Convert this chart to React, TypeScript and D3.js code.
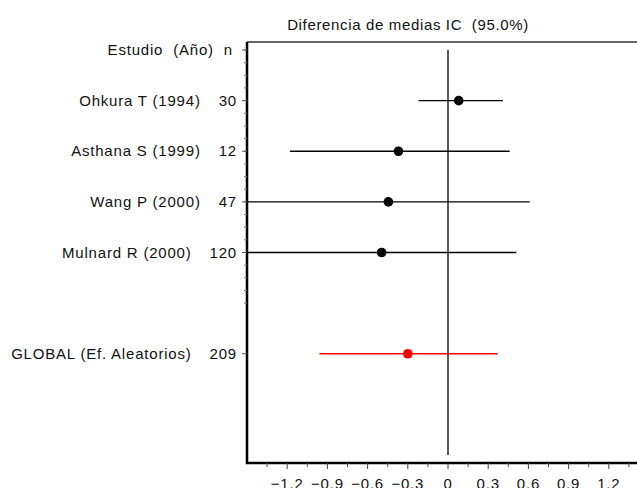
import React from 'react'
import * as d3 from 'd3'

// forest plot data
const studies = ['Ohkura T (1994)', 'Asthana S (1999)', 'Wang P (2000)', 'Mulnard R (2000)']
const sizes = [30, 12, 47, 120]
const means = [0.08, -0.37, -0.445, -0.495]
const lowers = [-0.22, -1.18, -1.5, -1.5]
const uppers = [0.41, 0.46, 0.61, 0.51]

const pooledLabel = 'GLOBAL (Ef. Aleatorios)'
const pooledN = 209
const pooledMean = -0.3
const pooledLower = -0.96
const pooledUpper = 0.37

const xTicks = [-1.2, -0.9, -0.6, -0.3, 0, 0.3, 0.6, 0.9, 1.2]

const font = '"Liberation Sans", Arial, sans-serif'

const App = () => {
  const left = 247
  const top = 42
  const bottom = 463

  const x = d3.scaleLinear().domain([-1.5, 1.5]).range([left, 649])
  const y = d3.scaleLinear().domain([0, 8]).range([50, 455])

  const rows = studies.map((s, i) => ({
    label: s, n: sizes[i], mean: means[i], lo: lowers[i], hi: uppers[i], row: i + 1, color: '#000'
  }))
  rows.push({ label: pooledLabel, n: pooledN, mean: pooledMean, lo: pooledLower, hi: pooledUpper, row: 6, color: '#ff0000' })

  const minorY = d3.range(0, 5.01, 0.25)
  const minorX = d3.range(-1.35, 1.5, 0.3)
  const clampX = (v) => x(Math.max(-1.5, Math.min(1.5, v)))
  const txt = { fontFamily: font, fontSize: 15, letterSpacing: 0.8, fill: '#111' }

  return (
    <div style={{ position: 'absolute', left: 0, top: 0 }}>
      <svg width={637} height={488} style={{ display: 'block', background: '#fff' }}>
        <text x={408} y={30} textAnchor='middle' {...txt} letterSpacing={0.65} style={{ whiteSpace: 'pre' }}>
          Diferencia de medias IC  (95.0%)
        </text>

        {/* frame */}
        <line x1={left} x2={660} y1={top} y2={top} stroke='#333' strokeWidth={1.5} />
        <line x1={left} x2={left} y1={top} y2={bottom + 1} stroke='#000' strokeWidth={2.5} />
        <line x1={left - 1} x2={660} y1={bottom} y2={bottom} stroke='#000' strokeWidth={2.5} />

        {/* y ticks */}
        {minorY.map(v => (
          <line key={'my' + v} x1={left - 3} x2={left} y1={y(v)} y2={y(v)} stroke='#777' strokeWidth={1} />
        ))}
        {[0, ...rows.map(r => r.row)].map(v => (
          <line key={'y' + v} x1={left - 5} x2={left} y1={y(v)} y2={y(v)} stroke='#555' strokeWidth={1} />
        ))}

        {/* x ticks */}
        {minorX.map(v => (
          <line key={'mx' + v} x1={x(v)} x2={x(v)} y1={bottom} y2={bottom + 4} stroke='#555' strokeWidth={1} />
        ))}
        {xTicks.map(v => (
          <g key={'x' + v}>
            <line x1={x(v)} x2={x(v)} y1={bottom} y2={bottom + 6} stroke='#444' strokeWidth={1} />
            <text x={x(v)} y={489} textAnchor='middle' {...txt}>
              {v === 0 ? '0' : d3.format('.1f')(v)}
            </text>
          </g>
        ))}

        {/* header */}
        <text x={233} y={y(0) + 5} textAnchor='end' {...txt} style={{ whiteSpace: 'pre' }}>
          Estudio  (Año)<tspan dx={10}>n</tspan>
        </text>

        {/* no-effect line */}
        <line x1={x(0)} x2={x(0)} y1={50} y2={455} stroke='#222' strokeWidth={1.5} />

        {rows.map(r => (
          <g key={r.label}>
            <text x={237} y={y(r.row) + 5} textAnchor='end' {...txt}>
              {r.label}<tspan dx={18}>{r.n}</tspan>
            </text>
            <line x1={clampX(r.lo)} x2={clampX(r.hi)} y1={y(r.row)} y2={y(r.row)} stroke={r.color} strokeWidth={1.4} />
            <circle cx={x(r.mean)} cy={y(r.row)} r={4.8} fill={r.color} />
          </g>
        ))}
      </svg>
    </div>
  )
}

export default App
